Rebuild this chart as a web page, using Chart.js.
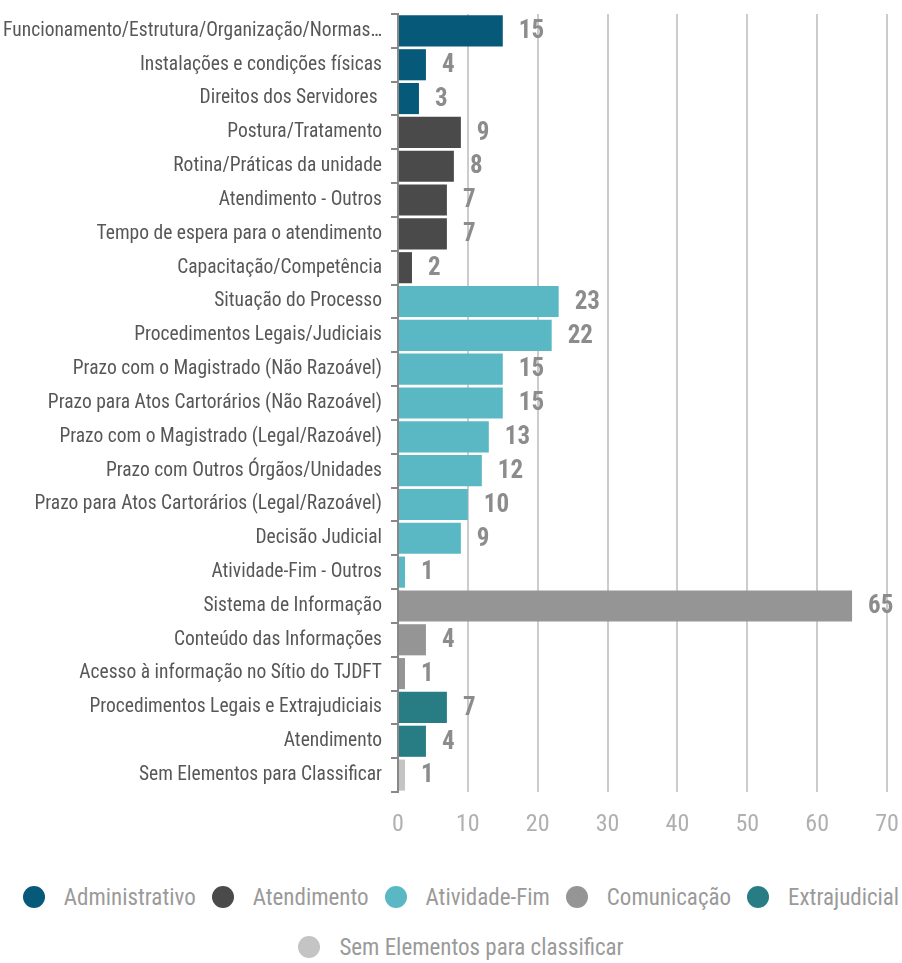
<!DOCTYPE html>
<html>
<head>
<meta charset="utf-8">
<script src="https://cdn.jsdelivr.net/npm/chart.js@4/dist/chart.umd.min.js"></script>
<style>
  body { margin: 0; background: #fff; overflow: hidden; }
  #wrap { position: relative; width: 902px; height: 860px; }
  #legend { width: 902px; padding-top: 12px; font-family: 'Roboto Condensed', sans-serif; font-size: 23px; color: #9a9a9a; white-space: nowrap; }
  #legend .row { display: flex; justify-content: center; align-items: center; height: 50px; transform: translateX(10px); }
  #legend .item { display: flex; align-items: center; margin: 0 8px; flex-shrink: 0; }
  #legend .dot { width: 22px; height: 22px; border-radius: 50%; margin-right: 19px; }
</style>
</head>
<body>
<div id="wrap"><canvas id="chart"></canvas></div>
<div id="legend"></div>
<script>
// categories (top to bottom), their values and the group each belongs to
var categories = [
  'Funcionamento/Estrutura/Organização/Normas…',
  'Instalações e condições físicas',
  'Direitos dos Servidores ',
  'Postura/Tratamento',
  'Rotina/Práticas da unidade',
  'Atendimento - Outros',
  'Tempo de espera para o atendimento',
  'Capacitação/Competência',
  'Situação do Processo',
  'Procedimentos Legais/Judiciais',
  'Prazo com o Magistrado (Não Razoável)',
  'Prazo para Atos Cartorários (Não Razoável)',
  'Prazo com o Magistrado (Legal/Razoável)',
  'Prazo com Outros Órgãos/Unidades',
  'Prazo para Atos Cartorários (Legal/Razoável)',
  'Decisão Judicial',
  'Atividade-Fim - Outros',
  'Sistema de Informação',
  'Conteúdo das Informações',
  'Acesso à informação no Sítio do TJDFT',
  'Procedimentos Legais e Extrajudiciais',
  'Atendimento',
  'Sem Elementos para Classificar'
];
var values = [15, 4, 3, 9, 8, 7, 7, 2, 23, 22, 15, 15, 13, 12, 10, 9, 1, 65, 4, 1, 7, 4, 1];
var groupOf = [0, 0, 0, 1, 1, 1, 1, 1, 2, 2, 2, 2, 2, 2, 2, 2, 2, 3, 3, 3, 4, 4, 5];

var groups = ['Administrativo', 'Atendimento', 'Atividade-Fim', 'Comunicação', 'Extrajudicial', 'Sem Elementos para classificar'];
var groupColors = ['#07597a', '#4a4a4a', '#5ab8c4', '#959595', '#287d85', '#c4c4c4'];

var narrow = "'Roboto Condensed', sans-serif";

var datasets = groups.map(function (g, gi) {
    return {
        label: g,
        data: values.map(function (v, i) { return groupOf[i] === gi ? v : null; }),
        backgroundColor: groupColors[gi],
        barPercentage: 0.92,
        categoryPercentage: 1
    };
});

// value labels to the right of each bar
var valueLabels = {
    id: 'valueLabels',
    afterDatasetsDraw: function (chart) {
        var ctx = chart.ctx;
        ctx.save();
        ctx.font = 'bold 25px ' + narrow;
        ctx.fillStyle = '#8c8c8c';
        ctx.textBaseline = 'middle';
        ctx.textAlign = 'left';
        chart.data.datasets.forEach(function (ds, di) {
            chart.getDatasetMeta(di).data.forEach(function (bar, i) {
                if (ds.data[i] === null) return;
                ctx.fillText(ds.data[i], bar.x + 16, bar.y + 1);
            });
        });
        ctx.restore();
    }
};

var chart = new Chart(document.getElementById('chart'), {
    type: 'bar',
    data: { labels: categories, datasets: datasets },
    options: {
        indexAxis: 'y',
        responsive: true,
        maintainAspectRatio: false,
        animation: false,
        datasets: { bar: { grouped: false } },
        layout: { padding: { top: 14, right: 15, left: 0, bottom: 0 } },
        plugins: {
            legend: { display: false },
            tooltip: { enabled: false }
        },
        scales: {
            x: {
                min: 0,
                max: 70,
                ticks: { stepSize: 10, color: '#b0b0b0', padding: 19, font: { size: 24, family: narrow } },
                grid: { color: '#cccccc', lineWidth: 2, drawTicks: false },
                border: { display: false },
                afterFit: function (scale) {
                    scale.height = 68;
                    scale.paddingLeft = 0;
                    scale.paddingRight = 0;
                }
            },
            y: {
                ticks: { color: '#575757', padding: 9, font: { size: 19.5, family: narrow } },
                grid: { drawOnChartArea: false, drawTicks: true, tickLength: 7, color: '#888888', lineWidth: 2 },
                border: { display: true, color: '#888888', width: 2 },
                afterFit: function (scale) {
                    scale.width = 398;
                    scale.paddingTop = 0;
                    scale.paddingBottom = 0;
                }
            }
        }
    },
    plugins: [valueLabels]
});

// legend in two rows like the original
var legend = document.getElementById('legend');
[[0, 1, 2, 3, 4], [5]].forEach(function (row) {
    var r = document.createElement('div');
    r.className = 'row';
    row.forEach(function (gi) {
        var it = document.createElement('div');
        it.className = 'item';
        it.innerHTML = '<span class="dot" style="background:' + groupColors[gi] + '"></span><span>' + groups[gi] + '</span>';
        r.appendChild(it);
    });
    legend.appendChild(r);
});
</script>
</body>
</html>
